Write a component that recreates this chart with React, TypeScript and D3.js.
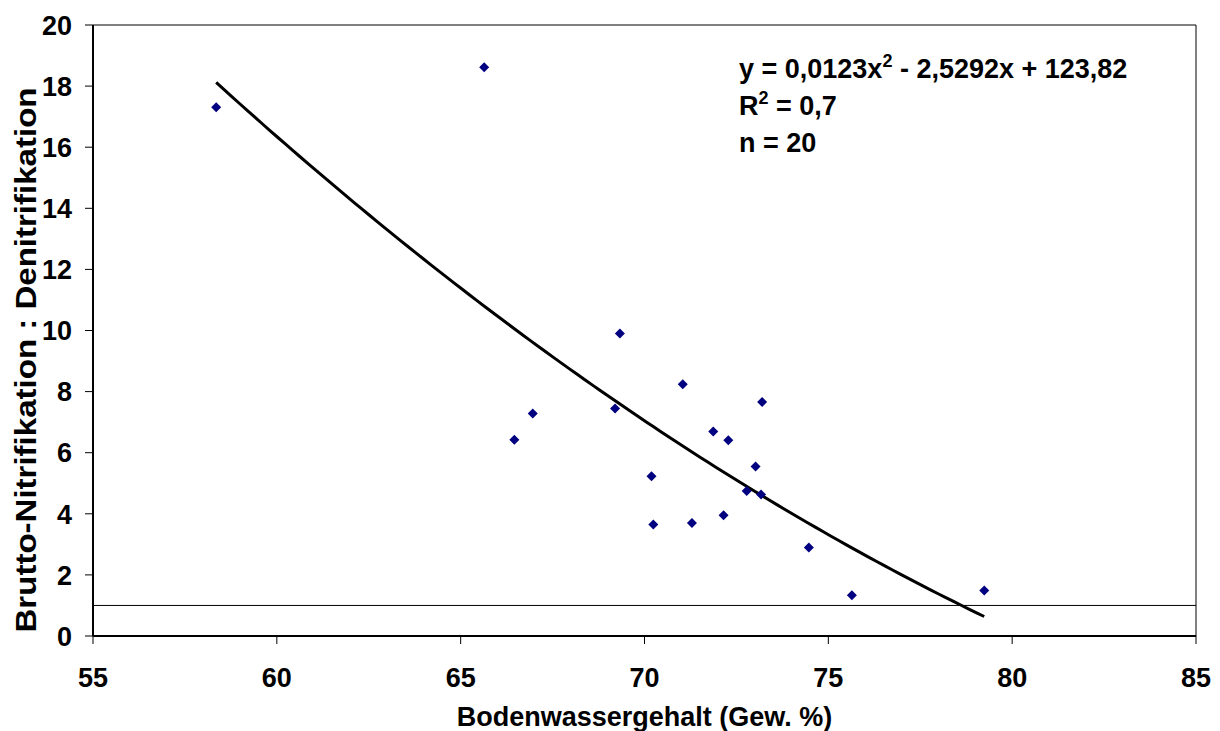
import React from "react";
import * as d3 from "d3";

// Bodenwassergehalt (Gew. %) vs. Brutto-Nitrifikation : Denitrifikation
const waterContent = [
  58.35, 65.64, 66.46, 66.96, 69.2, 69.33, 70.19, 70.24, 71.04, 71.29,
  71.87, 72.15, 72.28, 72.78, 73.02, 73.17, 73.2, 74.47, 75.64, 79.24,
];
const ratio = [
  17.31, 18.62, 6.42, 7.28, 7.45, 9.9, 5.23, 3.65, 8.24, 3.7,
  6.69, 3.95, 6.41, 4.75, 5.55, 4.63, 7.66, 2.9, 1.33, 1.49,
];

const xTicks = [55, 60, 65, 70, 75, 80, 85];
const yTicks = [0, 2, 4, 6, 8, 10, 12, 14, 16, 18, 20];
const coeffs = [0.0123, -2.5292, 123.82];
const refLine = 1;

const W = 1220;
const H = 731;
const margin = { left: 93, right: 24, top: 25, bottom: 95 };
const font = "'Liberation Sans', Arial, sans-serif";

const App = () => {
  const x = d3.scaleLinear().domain([55, 85]).range([margin.left, W - margin.right]);
  const y = d3.scaleLinear().domain([0, 20]).range([H - margin.bottom, margin.top]);

  const fit = (v: number) => coeffs[0] * v * v + coeffs[1] * v + coeffs[2];
  const [xMin, xMax] = d3.extent(waterContent) as [number, number];
  const curvePts = d3.range(0, 101).map((i) => {
    const v = xMin + ((xMax - xMin) * i) / 100;
    return [v, fit(v)] as [number, number];
  });
  const line = d3
    .line<[number, number]>()
    .x((d) => x(d[0]))
    .y((d) => y(d[1]));

  const diamond = d3.symbol().type(d3.symbolSquare).size(50)();

  const x0 = x(55);
  const x1 = x(85);
  const y0 = y(0);
  const y1 = y(20);

  return (
    <svg
      width={W}
      height={H}
      style={{ position: "absolute", left: 0, top: 0, background: "#fff" }}
      fontFamily={font}
    >
      {/* plot frame */}
      <line x1={x0} x2={x1} y1={y1} y2={y1} stroke="#000" strokeWidth={1} />
      <line x1={x1} x2={x1} y1={y1} y2={y0} stroke="#000" strokeWidth={1} />

      {/* reference line at 1 */}
      <line x1={x0} x2={x1} y1={y(refLine)} y2={y(refLine)} stroke="#000" strokeWidth={1} />

      {/* axes */}
      <line x1={x0} x2={x0} y1={y1} y2={y0} stroke="#000" strokeWidth={2} />
      <line x1={x0} x2={x1} y1={y0} y2={y0} stroke="#000" strokeWidth={2} />

      {yTicks.map((t) => (
        <g key={"y" + t}>
          <line x1={x0 - 8} x2={x0} y1={y(t)} y2={y(t)} stroke="#000" strokeWidth={1} />
          <text
            x={x0 - 21}
            y={y(t)}
            dy="0.36em"
            textAnchor="end"
            fontSize={27}
            fontWeight="bold"
          >
            {t}
          </text>
        </g>
      ))}

      {xTicks.map((t) => (
        <g key={"x" + t}>
          <line x1={x(t)} x2={x(t)} y1={y0} y2={y0 + 8} stroke="#000" strokeWidth={1} />
          <text x={x(t)} y={687} textAnchor="middle" fontSize={27} fontWeight="bold">
            {t}
          </text>
        </g>
      ))}

      {/* trend line */}
      <path d={line(curvePts) || ""} fill="none" stroke="#000" strokeWidth={3} />

      {/* points */}
      {waterContent.map((v, i) => (
        <path
          key={i}
          d={diamond || ""}
          transform={`translate(${x(v)},${y(ratio[i])}) rotate(45)`}
          fill="#000080"
        />
      ))}

      {/* equation */}
      <g fontSize={27} fontWeight="bold">
        <text x={739} y={78}>
          y = 0,0123x<tspan dy={-11} fontSize={18}>2</tspan>
          <tspan dy={11}> - 2,5292x + 123,82</tspan>
        </text>
        <text x={739} y={115}>
          R<tspan dy={-11} fontSize={18}>2</tspan>
          <tspan dy={11}> = 0,7</tspan>
        </text>
        <text x={739} y={152}>
          n = 20
        </text>
      </g>

      {/* axis titles */}
      <text
        x={(x0 + x1) / 2}
        y={726}
        textAnchor="middle"
        fontSize={27}
        fontWeight="bold"
      >
        Bodenwassergehalt (Gew. %)
      </text>
      <text
        transform={`translate(36,360) rotate(-90)`}
        textAnchor="middle"
        fontSize={30}
        fontWeight="bold"
        textLength={545}
        lengthAdjust="spacingAndGlyphs"
      >
        Brutto-Nitrifikation : Denitrifikation
      </text>
    </svg>
  );
};

export default App;
